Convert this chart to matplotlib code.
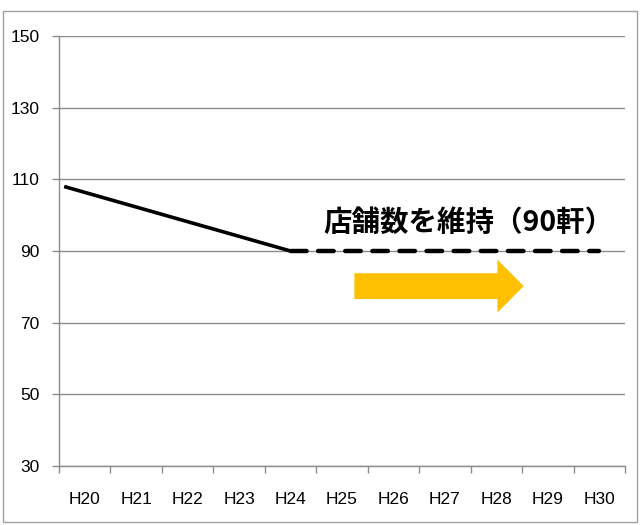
import numpy as np
import matplotlib.pyplot as plt
from matplotlib.patches import FancyArrow, Rectangle

plt.rcParams['font.family'] = ['Noto Sans CJK JP', 'DejaVu Sans']

# data
years = ['H20', 'H21', 'H22', 'H23', 'H24', 'H25', 'H26', 'H27', 'H28', 'H29', 'H30']
solid_x = [-0.4, 4]
solid_y = [108, 90]
dash_x = [4, 10]
dash_y = [90, 90]
y_ticks = [30, 50, 70, 90, 110, 130, 150]
label = '店舗数を維持（90軒）'

grid_c = '#8c8c8c'

fig = plt.figure(figsize=(6.4, 5.25), dpi=100)
ax = fig.add_axes([0.0922, 0.1124, 0.8844, 0.819])

ax.set_xlim(-0.5, len(years) - 0.5)
ax.set_ylim(30, 150)
ax.set_yticks(y_ticks)
ax.grid(axis='y', color=grid_c, linewidth=1)
ax.set_axisbelow(True)

ax.plot(solid_x, solid_y, color='black', linewidth=2.6, solid_capstyle='butt')
ax.plot(dash_x, dash_y, color='black', linewidth=3.2, dashes=(3.5, 2.6),
        dash_capstyle='round')

# yellow arrow
arr = FancyArrow(5.24, 80.2, 3.29, 0, width=7.2, head_width=14.8, head_length=0.51,
                 length_includes_head=True, color='#FFC000', linewidth=0)
ax.add_patch(arr)

ax.text(4.63, 97.8, label, fontsize=20.5, fontweight='bold', ha='left', va='center')

# axes style
ax.set_xticks(range(len(years)))
ax.set_xticklabels(years, family='Liberation Sans', fontsize=12.5)
ax.set_xticks(np.arange(-0.5, len(years)), minor=True)
ax.tick_params(axis='x', which='major', length=0, pad=19)
ax.tick_params(axis='x', which='minor', length=5, color=grid_c, width=1)
ax.tick_params(axis='y', length=5, color=grid_c, width=1, pad=9)
for t in ax.get_yticklabels():
    t.set_family('Liberation Sans')
    t.set_fontsize(12.5)
for s in ['top', 'right']:
    ax.spines[s].set_visible(False)
for s in ['left', 'bottom']:
    ax.spines[s].set_color(grid_c)
    ax.spines[s].set_linewidth(1)

# outer frame
fig.patches.append(Rectangle((3 / 640, 3 / 525), 634 / 640, 511 / 525,
                             transform=fig.transFigure, fill=False,
                             edgecolor='#a0a0a0', linewidth=1))

fig.savefig('out.png', dpi=100)
